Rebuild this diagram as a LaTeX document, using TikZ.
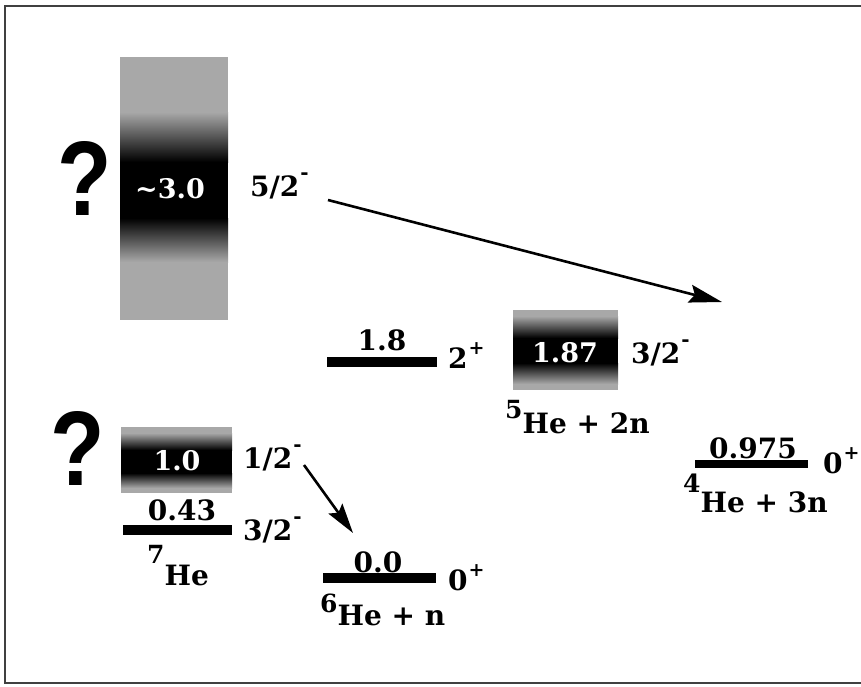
\documentclass[tikz,border=0pt]{standalone}
\usepackage{fontspec}
\setmainfont{DejaVu Serif}
\newfontfamily\qfont{Liberation Sans}
\usetikzlibrary{arrows.meta}
\newcommand\spminus{\kern1pt\raisebox{17pt}{\fontsize{20}{20}\selectfont\bfseries -}}
\newcommand\spplus{\kern1pt\raisebox{14pt}{\fontsize{19}{19}\selectfont\bfseries +}}
\newcommand\isonum[2]{{\fontsize{25}{25}\selectfont\bfseries\raisebox{#1}{#2}}}
\definecolor{boxgray}{gray}{0.66}
\begin{document}
\begin{tikzpicture}[x=1pt,y=-1pt,
  lbl/.style={font=\fontsize{28}{30}\selectfont\bfseries, inner sep=0pt},
  boxnum/.style={font=\fontsize{27}{30}\selectfont\bfseries, text=white, inner sep=0pt, anchor=base},
  qmark/.style={font=\qfont\fontsize{106}{106}\selectfont\bfseries, inner sep=0pt, anchor=base, xscale=0.84},
  arr/.style={line width=2.6pt, -{Stealth[length=33pt,width=18pt,inset=5pt]}},
  frame/.style={line width=2.5pt, draw=black!75}
]
\useasboundingbox (0,0) rectangle (861,686);
\draw[frame] (861,6) -| (5,683) -- (861,683);

% big box ~3.0
\fill[boxgray] (120,57) rectangle (228,320);
\shade[top color=boxgray, bottom color=black] (120,112) rectangle (228,162);
\fill[black] (120,162) rectangle (228,218);
\shade[top color=black, bottom color=boxgray] (120,218) rectangle (228,262);
\node[boxnum] (e30) at (170,198) {\textasciitilde3.0};
\node[qmark] (q1) at (85,215) {?};
\node[lbl, anchor=base west] (s52) at (250,196) {5/2\spminus};

% box 1.87
\fill[boxgray] (513,310) rectangle (618,390);
\shade[top color=boxgray, bottom color=black] (513,316) rectangle (618,338);
\fill[black] (513,338) rectangle (618,363);
\shade[top color=black, bottom color=boxgray] (513,363) rectangle (618,384);
\node[boxnum] (e187) at (565,362) {1.87};
\node[lbl, anchor=base west] (s32a) at (631,363) {3/2\spminus};
\node[lbl, anchor=base west] (he5) at (505,433) {\isonum{15pt}{5}He + 2n};

% box 1.0
\fill[boxgray] (121,427) rectangle (232,493);
\shade[top color=boxgray, bottom color=black] (121,433) rectangle (232,450);
\fill[black] (121,450) rectangle (232,473);
\shade[top color=black, bottom color=boxgray] (121,473) rectangle (232,488);
\node[boxnum] (e10) at (177,470) {1.0};
\node[qmark] (q2) at (78,485) {?};
\node[lbl, anchor=base west] (s12) at (243,468) {1/2\spminus};

% level 1.8
\fill (327,357) rectangle (437,367);
\node[lbl, anchor=base] (e18) at (382,350) {1.8};
\node[lbl, anchor=base west] (s2p) at (448,368) {2\spplus};

% level 0.975
\fill (695,460) rectangle (808,468);
\node[lbl, anchor=base] (e0975) at (753,458) {0.975};
\node[lbl, anchor=base west] (s0pa) at (823,473) {0\spplus};
\node[lbl, anchor=base west] (he4) at (683,512) {\isonum{20pt}{4}He + 3n};

% level 0.43
\fill (123,525) rectangle (232,535);
\node[lbl, anchor=base] (e043) at (182,520) {0.43};
\node[lbl, anchor=base west] (s32b) at (243,540) {3/2\spminus};
\node[lbl, anchor=base west] (he7) at (147,585) {\isonum{22pt}{7}He};

% level 0.0
\fill (323,573) rectangle (436,583);
\node[lbl, anchor=base] (e00) at (378,572) {0.0};
\node[lbl, anchor=base west] (s0pb) at (448,590) {0\spplus};
\node[lbl, anchor=base west] (he6) at (320,625) {\isonum{13pt}{6}He + n};

% arrows
\coordinate (a1) at (328,200);
\coordinate (a2) at (722,302);
\coordinate (b1) at (304,465);
\coordinate (b2) at (353,533);
\draw[arr] (a1) -- (a2);
\draw[arr, -{Stealth[length=30pt,width=17pt,inset=5pt]}] (b1) -- (b2);
\end{tikzpicture}
\end{document}
